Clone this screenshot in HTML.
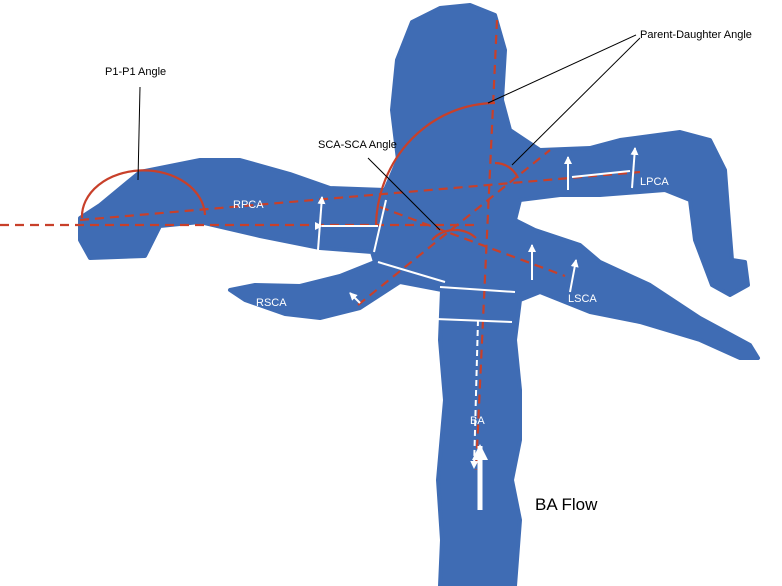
<!DOCTYPE html><html><head><style>body{margin:0;background:#fff}svg{display:block}text{font-family:"Liberation Sans",sans-serif}</style></head><body>
<svg width="782" height="586" viewBox="0 0 782 586">
<defs><marker id="a" markerUnits="userSpaceOnUse" markerWidth="8" markerHeight="8" refX="7" refY="4" orient="auto"><path d="M0,0L8,4L0,8z" fill="#fff"/></marker>
<marker id="b" markerUnits="userSpaceOnUse" markerWidth="16" markerHeight="16" refX="14" refY="8" orient="auto"><path d="M0,0L16,8L0,16z" fill="#fff"/></marker></defs>
<g fill="#3f6cb4" stroke="#3f6cb4" stroke-width="4" stroke-linejoin="round">
<path d="M80,218 L100,205 L140,172 L200,160 L240,160 L290,174 L330,188 L385,190 L398,160 L392,110 L397,60 L412,22 L440,8 L470,5 L495,15 L505,50 L502,100 L510,130 L540,150 L590,148 L620,140 L680,132 L710,140 L725,170 L728,210 L732,260 L745,262 L748,285 L730,295 L712,285 L695,240 L690,200 L665,190 L600,195 L560,195 L520,200 L515,220 L535,230 L580,245 L600,262 L650,285 L700,318 L750,345 L758,358 L740,358 L700,340 L640,322 L590,312 L540,292 L520,300 L515,340 L520,390 L520,440 L512,480 L520,520 L515,586 L440,586 L442,540 L438,480 L445,400 L440,340 L442,290 L400,282 L380,295 L360,308 L320,318 L285,314 L245,300 L230,290 L255,285 L300,286 L340,276 L375,262 L372,252 L320,248 L260,236 L200,222 L160,226 L145,256 L90,258 L80,240 Z"/>
</g>
<g fill="none" stroke="#c8402a" stroke-width="2.2" stroke-dasharray="9,6">
<path d="M0,225 L480,225"/>
<path d="M80,220 L640,172"/>
<path d="M497,20 L476,470"/>
<path d="M380,207 L565,276"/>
<path d="M358,305 L550,150"/>
</g>
<g fill="none" stroke="#c8402a" stroke-width="2.2">
<path d="M82,218 A60,45 0 0 1 205,215"/>
<path d="M376,225 A120,125 0 0 1 495,103"/>
<path d="M432,240 A30,28 0 0 1 476,238"/>
<path d="M495,163 A25,25 0 0 1 518,178"/>
</g>
<g stroke="#fff" stroke-width="2" fill="none">
<path d="M318,250 L322,197" marker-end="url(#a)"/>
<path d="M374,252 L386,200"/>
<path d="M322,226 L378,226" marker-start="url(#a)"/>
<path d="M378,262 L445,282"/>
<path d="M440,287 L515,292"/>
<path d="M410,318 L512,322"/>
<path d="M478,320 L474,468" stroke-dasharray="6,4" marker-end="url(#a)"/>
<path d="M360,303 L350,293" marker-end="url(#a)"/>
<path d="M532,280 L532,245" marker-end="url(#a)"/>
<path d="M570,292 L576,260" marker-end="url(#a)"/>
<path d="M568,190 L568,157" marker-end="url(#a)"/>
<path d="M632,188 L635,148" marker-end="url(#a)"/>
<path d="M572,177 L630,171"/>
<path d="M480,510 L480,446" stroke-width="5" marker-end="url(#b)"/>
</g>
<g stroke="#000" stroke-width="1" fill="none">
<path d="M140,87 L138,180"/>
<path d="M368,158 L440,230"/>
<path d="M636,35 L488,103"/>
<path d="M640,38 L512,165"/>
</g>
<g fill="#fff" font-size="11">
<text x="233" y="208">RPCA</text><text x="256" y="306">RSCA</text>
<text x="640" y="185">LPCA</text><text x="568" y="302">LSCA</text>
<text x="470" y="424">BA</text></g>
<g fill="#000" font-size="11">
<text x="105" y="75">P1-P1 Angle</text><text x="318" y="148">SCA-SCA Angle</text>
<text x="640" y="38">Parent-Daughter Angle</text></g>
<text x="535" y="510" font-size="17" fill="#000">BA Flow</text>
</svg></body></html>
